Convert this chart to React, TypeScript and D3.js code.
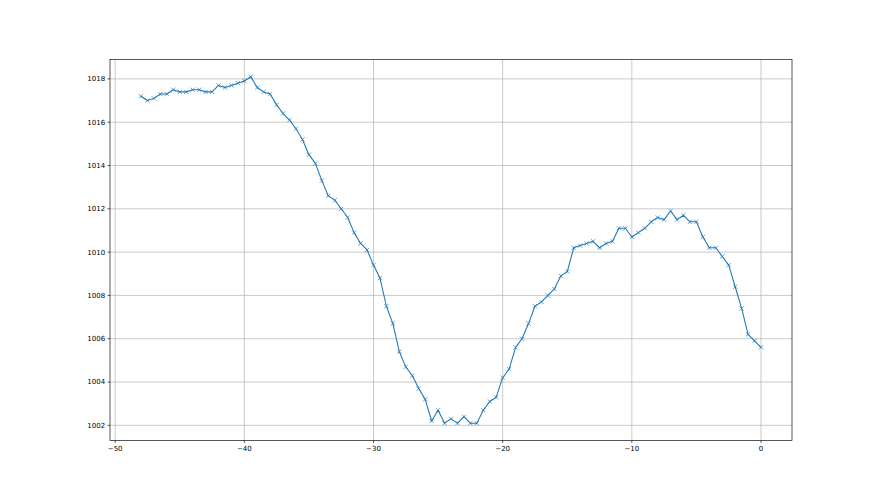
import React from "react";
import * as d3 from "d3";

const hours: number[] = [
  -48, -47.5, -47, -46.5, -46, -45.5, -45, -44.5, -44, -43.5, -43, -42.5, -42, -41.5, -41, -40.5,
  -40, -39.5, -39, -38.5, -38, -37.5, -37, -36.5, -36, -35.5, -35, -34.5, -34, -33.5, -33, -32.5,
  -32, -31.5, -31, -30.5, -30, -29.5, -29, -28.5, -28, -27.5, -27, -26.5, -26, -25.5, -25, -24.5,
  -24, -23.5, -23, -22.5, -22, -21.5, -21, -20.5, -20, -19.5, -19, -18.5, -18, -17.5, -17, -16.5,
  -16, -15.5, -15, -14.5, -14, -13.5, -13, -12.5, -12, -11.5, -11, -10.5, -10, -9.5, -9, -8.5,
  -8, -7.5, -7, -6.5, -6, -5.5, -5, -4.5, -4, -3.5, -3, -2.5, -2, -1.5, -1, -0.5, 0,
];

const pressure: number[] = [
  1017.2, 1017.0, 1017.1, 1017.3, 1017.3, 1017.5, 1017.4, 1017.4, 1017.5, 1017.5, 1017.4, 1017.4,
  1017.7, 1017.6, 1017.7, 1017.8, 1017.9, 1018.1, 1017.6, 1017.4, 1017.3, 1016.8, 1016.4, 1016.1,
  1015.7, 1015.2, 1014.5, 1014.1, 1013.3, 1012.6, 1012.4, 1012.0, 1011.6, 1010.9, 1010.4, 1010.1,
  1009.4, 1008.8, 1007.5, 1006.7, 1005.4, 1004.7, 1004.3, 1003.7, 1003.2, 1002.2, 1002.7, 1002.1,
  1002.3, 1002.1, 1002.4, 1002.1, 1002.1, 1002.7, 1003.1, 1003.3, 1004.2, 1004.6, 1005.6, 1006.0,
  1006.7, 1007.5, 1007.7, 1008.0, 1008.3, 1008.9, 1009.1, 1010.2, 1010.3, 1010.4, 1010.5, 1010.2,
  1010.4, 1010.5, 1011.1, 1011.1, 1010.7, 1010.9, 1011.1, 1011.4, 1011.6, 1011.5, 1011.9, 1011.5,
  1011.7, 1011.4, 1011.4, 1010.7, 1010.2, 1010.2, 1009.8, 1009.4, 1008.4, 1007.4, 1006.2, 1005.9,
  1005.6,
];

const xTicks: number[] = [-50, -40, -30, -20, -10, 0];
const yTicks: number[] = [1002, 1004, 1006, 1008, 1010, 1012, 1014, 1016, 1018];

const W = 880;
const H = 495;
const left = 110;
const right = 792;
const top = 59.4;
const bottom = 440.5;
const color = "#1f77b4";
const k = 0.7;

export default function App() {
  const xMin = d3.min(hours)!;
  const xMax = d3.max(hours)!;
  const yMin = d3.min(pressure)!;
  const yMax = d3.max(pressure)!;
  const xm = (xMax - xMin) * 0.05;
  const ym = (yMax - yMin) * 0.05;
  const x = d3.scaleLinear().domain([xMin - xm, xMax + xm]).range([left, right]);
  const y = d3.scaleLinear().domain([yMin - ym, yMax + ym]).range([bottom, top]);
  const pts = hours.map((h, i) => [h, pressure[i]] as [number, number]);
  const line = d3
    .line<[number, number]>()
    .x((d) => x(d[0]))
    .y((d) => y(d[1]));
  const ms = 3 * k;
  const tickLen = 3.5 * k;
  const pad = 3.5 * k;
  const fs = 10 * k;
  return (
    <svg
      width={W}
      height={H}
      style={{ position: "absolute", left: 0, top: 0, background: "#fff" }}
      fontFamily="DejaVu Sans"
    >
      <rect x={0} y={0} width={W} height={H} fill="#fff" />
      <g>
        {xTicks.map((t) => (
          <line key={"gx" + t} x1={x(t)} x2={x(t)} y1={top} y2={bottom} stroke="#b0b0b0" strokeWidth={0.8 * k + 0.1} />
        ))}
        {yTicks.map((t) => (
          <line key={"gy" + t} x1={left} x2={right} y1={y(t)} y2={y(t)} stroke="#b0b0b0" strokeWidth={0.8 * k + 0.1} />
        ))}
      </g>
      <path d={line(pts)!} fill="none" stroke={color} strokeWidth={1.5 * k} strokeLinejoin="round" />
      <g stroke={color} strokeWidth={1 * k}>
        {pts.map((d, i) => {
          const cx = x(d[0]);
          const cy = y(d[1]);
          return (
            <g key={"m" + i}>
              <line x1={cx - ms} y1={cy - ms} x2={cx + ms} y2={cy + ms} />
              <line x1={cx - ms} y1={cy + ms} x2={cx + ms} y2={cy - ms} />
            </g>
          );
        })}
      </g>
      <rect x={left} y={top} width={right - left} height={bottom - top} fill="none" stroke="#000" strokeWidth={0.8 * k + 0.1} />
      {xTicks.map((t) => (
        <g key={"xt" + t}>
          <line x1={x(t)} x2={x(t)} y1={bottom} y2={bottom + tickLen} stroke="#000" strokeWidth={0.8 * k + 0.1} />
          <text x={x(t)} y={bottom + tickLen + pad} dy="0.76em" textAnchor="middle" fontSize={fs} fill="#000">
            {t < 0 ? "\u2212" + Math.abs(t) : String(t)}
          </text>
        </g>
      ))}
      {yTicks.map((t) => (
        <g key={"yt" + t}>
          <line x1={left - tickLen} x2={left} y1={y(t)} y2={y(t)} stroke="#000" strokeWidth={0.8 * k + 0.1} />
          <text x={left - tickLen - pad} y={y(t)} dy="0.35em" textAnchor="end" fontSize={fs} fill="#000">
            {t}
          </text>
        </g>
      ))}
    </svg>
  );
}
